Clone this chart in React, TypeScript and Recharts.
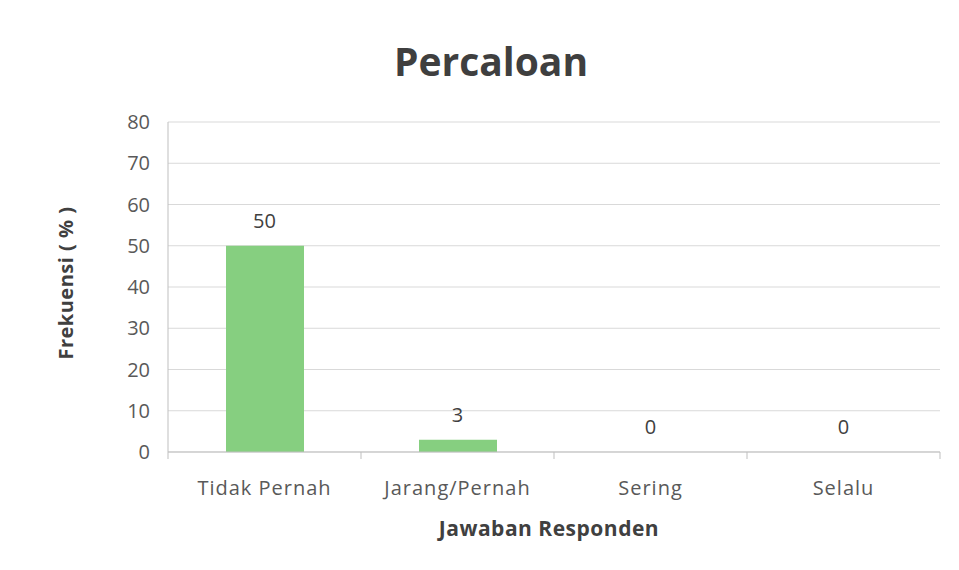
import { ComposedChart, Bar, Line, XAxis, YAxis, CartesianGrid, LabelList } from "recharts";

const categories = ["Tidak Pernah", "Jarang/Pernah", "Sering", "Selalu"];
const frekuensi = [50, 3, 0, 0];
const yTicks = [0, 10, 20, 30, 40, 50, 60, 70, 80];

const data = categories.map((c, i) => ({ name: c, value: frekuensi[i] }));

const W = 959;
const H = 570;
const margin = { top: 122, right: 19, bottom: 88, left: 0 };
const yAxisWidth = 168;
const band = (W - margin.right - yAxisWidth) / categories.length;

const font = "'Open Sans', 'Liberation Sans', sans-serif";

// tick label at the category centre, tick marks at the category boundaries
const CategoryTick = ({ x, y, payload, index }: any) => (
  <g>
    <line x1={x + band / 2} x2={x + band / 2} y1={y - 8} y2={y - 1} stroke="#bfbfbf" />
    {index === 0 && (
      <line x1={x - band / 2} x2={x - band / 2} y1={y - 8} y2={y - 1} stroke="#bfbfbf" />
    )}
    <text x={x} y={y + 35} textAnchor="middle" fill="#595959" fontSize={20} letterSpacing={1} fontFamily={font}>
      {payload.value}
    </text>
  </g>
);

export default function App() {
  return (
    <div style={{ position: "absolute", left: 0, top: 0, width: W, height: H, background: "#fff" }}>
      <ComposedChart width={W} height={H} data={data} margin={margin}>
        <text x={491} y={76} textAnchor="middle" fontSize={39} fontWeight="bold" fill="#3f3f3f" fontFamily={font}>
          Percaloan
        </text>
        <text
          x={73}
          y={283}
          transform="rotate(-90 73 283)"
          textAnchor="middle"
          fontSize={20}
          fontWeight="bold"
          letterSpacing={0.5}
          fill="#404040"
          fontFamily={font}
        >
          Frekuensi ( % )
        </text>
        <text x={549} y={536} textAnchor="middle" fontSize={21} fontWeight="bold" letterSpacing={0.5} fill="#404040" fontFamily={font}>
          Jawaban Responden
        </text>
        <CartesianGrid vertical={false} stroke="#d9d9d9" />
        <XAxis
          dataKey="name"
          tickLine={false}
          axisLine={{ stroke: "#bfbfbf" }}
          tick={<CategoryTick />}
          interval={0}
        />
        <YAxis
          width={yAxisWidth}
          domain={[0, 80]}
          ticks={yTicks}
          interval={0}
          tickLine={false}
          tickSize={8}
          tickMargin={10}
          axisLine={{ stroke: "#bfbfbf" }}
          tick={{ fill: "#595959", fontSize: 20, fontFamily: font }}
        />
        <Bar dataKey="value" fill="#86cf80" barSize={78} isAnimationActive={false} />
        {/* invisible series that carries the value labels, so zeros get one too */}
        <Line dataKey="value" stroke="none" dot={false} activeDot={false} isAnimationActive={false}>
          <LabelList
            dataKey="value"
            position="top"
            offset={18}
            fill="#404040"
            fontSize={20}
            fontFamily={font}
          />
        </Line>
      </ComposedChart>
    </div>
  );
}
